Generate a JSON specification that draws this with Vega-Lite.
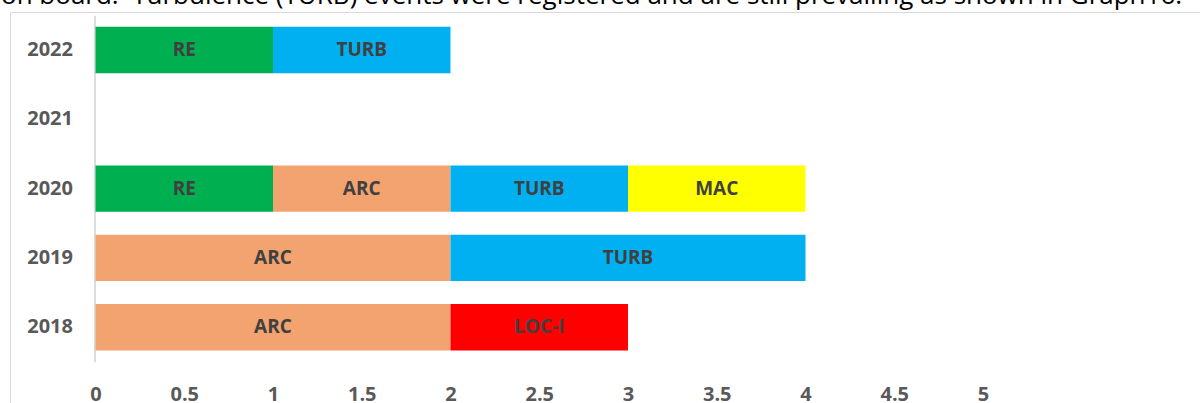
{
  "$schema": "https://vega.github.io/schema/vega-lite/v6.json",
  "width": 1200,
  "height": 400,
  "autosize": "none",
  "padding": {"left": 10, "top": 12, "right": 0, "bottom": 0},
  "background": "white",
  "title": {
    "text": "on board.\u00a0 Turbulence (TURB) events were registered and are still prevailing as shown in Graph16.",
    "anchor": "start",
    "frame": "group",
    "orient": "top",
    "baseline": "bottom",
    "offset": -23,
    "dx": -9,
    "font": "Open Sans",
    "fontSize": 26,
    "fontWeight": "normal",
    "color": "#000000"
  },
  "config": {
    "view": {"stroke": "#d9d9d9", "strokeWidth": 1},
    "axisX": {
      "grid": false, "domain": false, "ticks": false, "title": null,
      "labelFont": "Open Sans", "labelFontSize": 20, "labelFontWeight": "bold",
      "labelColor": "#595959", "labelBaseline": "alphabetic", "labelPadding": 0, "offset": -12
    },
    "axisY": {
      "grid": false, "domain": true, "domainColor": "#d0d0d0", "domainWidth": 1.5,
      "ticks": false, "title": null,
      "labelFont": "Open Sans", "labelFontSize": 20, "labelFontWeight": "bold",
      "labelColor": "#595959", "labelPadding": 22, "offset": -84.5
    }
  },
  "data": {
    "values": [
      {"year": "2022", "cat": "RE", "v": 1, "o": 1},
      {"year": "2022", "cat": "TURB", "v": 1, "o": 2},
      {"year": "2020", "cat": "RE", "v": 1, "o": 1},
      {"year": "2020", "cat": "ARC", "v": 1, "o": 2},
      {"year": "2020", "cat": "TURB", "v": 1, "o": 3},
      {"year": "2020", "cat": "MAC", "v": 1, "o": 4},
      {"year": "2019", "cat": "ARC", "v": 2, "o": 1},
      {"year": "2019", "cat": "TURB", "v": 2, "o": 2},
      {"year": "2018", "cat": "ARC", "v": 2, "o": 1},
      {"year": "2018", "cat": "LOC-I", "v": 1, "o": 2}
    ]
  },
  "transform": [
    {"stack": "v", "groupby": ["year"], "sort": [{"field": "o"}], "as": ["x0", "x1"]}
  ],
  "encoding": {
    "y": {
      "field": "year", "type": "nominal",
      "scale": {"domain": ["2022", "2021", "2020", "2019", "2018"], "range": [3.35, 349.85], "paddingInner": 0.33, "paddingOuter": 0.165},
      "axis": {"title": null}
    }
  },
  "layer": [
    {
      "mark": {"type": "bar"},
      "encoding": {
        "x": {
          "field": "x0", "type": "quantitative",
          "scale": {"domain": [-0.4817, 6.279], "nice": false, "zero": false},
          "axis": {"values": [0, 0.5, 1, 1.5, 2, 2.5, 3, 3.5, 4, 4.5, 5], "format": "~g", "title": null}
        },
        "x2": {"field": "x1"},
        "color": {
          "field": "cat", "type": "nominal",
          "scale": {"domain": ["RE", "ARC", "TURB", "MAC", "LOC-I"], "range": ["#00b050", "#f2a36f", "#00b0f0", "#ffff00", "#ff0000"]},
          "legend": null
        }
      }
    },
    {
      "transform": [
        {"fold": ["x0", "x1"], "as": ["k", "xv"]},
        {"aggregate": [{"op": "mean", "field": "xv", "as": "xm"}], "groupby": ["year", "cat"]}
      ],
      "mark": {"type": "text", "font": "Open Sans", "fontSize": 19, "fontWeight": "bold", "color": "#404040", "baseline": "middle", "align": "center"},
      "encoding": {
        "x": {"field": "xm", "type": "quantitative"},
        "text": {"field": "cat"}
      }
    }
  ]
}
